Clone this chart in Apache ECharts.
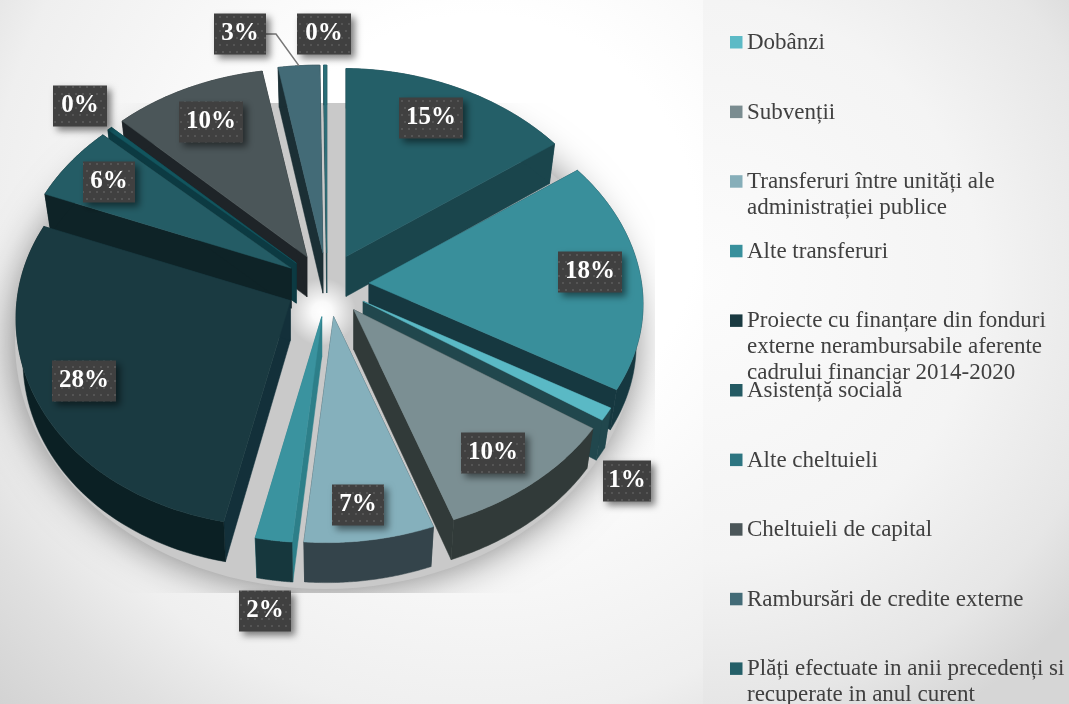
<!DOCTYPE html>
<html>
<head>
    <meta charset="utf-8">
    <title>Cheltuieli</title>
    <script src="https://cdn.jsdelivr.net/npm/echarts@6/dist/echarts.min.js"></script>
    <style>
        html, body { margin: 0; padding: 0; }
    </style>
</head>
<body>
    <div id="main" style="width:1069px;height:704px;"></div>
    <script type="text/javascript">
        // slices clockwise from 12 o'clock, in percent
        var sliceValues = [15, 18, 1, 10, 7, 2, 27.8, 6, 0.3, 10, 2.7, 0.2];

        var legendNames = [
            'Dobânzi',
            'Subvenții',
            'Transferuri între unități ale\nadministrației publice',
            'Alte transferuri',
            'Proiecte cu finanțare din fonduri\nexterne nerambursabile aferente\ncadrului financiar 2014-2020',
            'Asistență socială',
            'Alte cheltuieli',
            'Cheltuieli de capital',
            'Rambursări de credite externe',
            'Plăți efectuate in anii precedenți si\nrecuperate in anul curent'
        ];

        // colours
        var legendColors = ['#5cbac6', '#7a8c90', '#86aeb9', '#38909c', '#1a3a41', '#245a63', '#2d7581', '#4b5659', '#436b77', '#245f68'];
        var topColors = ['#245f68', '#398f9b', '#5ab9c5', '#7b8f93', '#85b0bc', '#3a939f', '#1a3a41', '#245c65', '#12555e', '#4b5659', '#436b77', '#2a6e78'];
        var sideColors = ['#1a454c', '#163840', '#21474d', '#313a39', '#34444b', '#2d7f89', '#13303a', '#0e2327', '#0c3a42', '#1e2428', '#1b2f35', '#1a454c'];
        var rimColors = ['#1a454c', '#163840', '#21474d', '#313a39', '#34444b', '#16373d', '#0b2024', '#0e2327', '#0c3a42', '#1e2428', '#1b2f35', '#1a454c'];

        // label box centres, same order as the slices
        var labelCenters = [[431, 118], [590, 272], [627, 481], [493, 453], [358, 505], [265, 611], [84, 381], [109, 182], [80, 106], [211, 122], [240, 34], [324, 34]];

        var cx = 327, cy = 285, depth = 40, explodeX = 42, explodeY = 32;
        var total = sliceValues.reduce(function (a, b) { return a + b; }, 0);

        // start / end angle of every slice
        var starts = [], ends = [], acc = 0;
        sliceValues.forEach(function (v) {
            starts.push(acc / total * 360);
            acc += v;
            ends.push(acc / total * 360);
        });

        function rad(a) { return a * Math.PI / 180; }

        // rim offset from the apex, back of the pie is smaller because of perspective
        function rim(a) {
            var s = Math.sin(rad(a)), c = Math.cos(rad(a));
            var front = c < 0 ? c * c : 0;
            return [(273 - 26 * c) * s - 11 * front, -(207 - 19 * c) * c + 3 * s];
        }

        function apexOf(i) {
            var b = rad((starts[i] + ends[i]) / 2);
            return [cx + explodeX * Math.sin(b), cy - explodeY * Math.cos(b)];
        }

        // bottom face is a little narrower than the top face
        function down(p, apex) {
            return [apex[0] + (p[0] - apex[0]) * 0.975, p[1] + depth];
        }

        function arcPoints(i) {
            var apex = apexOf(i), pts = [], step = Math.max((ends[i] - starts[i]) / 60, 0.05);
            for (var a = starts[i]; a < ends[i]; a += step) {
                var r = rim(a);
                pts.push([apex[0] + r[0], apex[1] + r[1]]);
            }
            var e = rim(ends[i]);
            pts.push([apex[0] + e[0], apex[1] + e[1]]);
            return pts;
        }

        function poly(points, fill) {
            return { type: 'polygon', shape: { points: points }, style: { fill: fill, stroke: fill, lineWidth: 0.5 } };
        }

        function renderSlice(params, api) {
            var i = api.value(1);
            if (!api.value(0)) { return; }
            var apex = apexOf(i), arc = arcPoints(i);
            var first = arc[0], last = arc[arc.length - 1];
            var low = arc.map(function (p) { return down(p, apex); });
            var rimWall = arc.concat(low.slice().reverse());
            var apexLow = down(apex, apex);
            return {
                type: 'group',
                children: [
                    poly([apex, first, low[0], apexLow], sideColors[i]),
                    poly([apex, last, low[low.length - 1], apexLow], sideColors[i]),
                    poly(rimWall, rimColors[i]),
                    poly([apex].concat(arc), topColors[i])
                ]
            };
        }

        // grey cast shadow and the light spot in the middle
        function renderBackdrop() {
            var pts = [];
            for (var a = 0; a < 360; a += 3) {
                pts.push([cx - 2 + 310 * Math.sin(rad(a)), 342 - 247 * Math.cos(rad(a))]);
            }
            return {
                type: 'group',
                children: [
                    {
                        type: 'polygon',
                        shape: { points: pts },
                        clipPath: { type: 'rect', shape: { x: 0, y: 103, width: 655, height: 490 } },
                        style: { fill: '#c9c9c9', shadowBlur: 40, shadowColor: 'rgba(0,0,0,0.5)' }
                    },
                    {
                        type: 'circle',
                        shape: { cx: 322, cy: 312, r: 34 },
                        style: {
                            fill: new echarts.graphic.RadialGradient(0.5, 0.5, 0.5, [
                                { offset: 0, color: 'rgba(255,255,255,1)' },
                                { offset: 0.3, color: 'rgba(255,255,255,0.9)' },
                                { offset: 1, color: 'rgba(255,255,255,0)' }
                            ])
                        }
                    }
                ]
            };
        }

        // dotted tile for the label boxes
        var tile = document.createElement('canvas');
        tile.width = 14;
        tile.height = 14;
        var tc = tile.getContext('2d');
        tc.fillStyle = '#404040';
        tc.fillRect(0, 0, 14, 14);
        tc.fillStyle = '#555555';
        tc.fillRect(2, 2, 2, 2);
        tc.fillRect(9, 2, 2, 2);
        tc.fillRect(5, 9, 2, 2);
        tc.fillRect(12, 9, 2, 2);

        function renderLabel(params, api) {
            var i = api.value(1), text = Math.round(api.value(0)) + '%';
            var c = labelCenters[i];
            var w = (text.length > 2 ? 64 : 52), h = 41;
            if (text === '1%') { w = 48; }
            if (text === '0%') { w = 54; }
            var kids = [];
            if (i === 10) {
                // leader line from the 3% box to its slice
                var apex = apexOf(i), r = rim((starts[i] + ends[i]) / 2);
                kids.push({
                    type: 'polyline',
                    shape: { points: [[c[0] + w / 2, c[1]], [c[0] + w / 2 + 10, c[1]], [apex[0] + r[0], apex[1] + r[1]]] },
                    style: { stroke: '#777', lineWidth: 1.5, fill: null }
                });
            }
            kids.push({
                type: 'rect',
                shape: { x: c[0] - w / 2, y: c[1] - h / 2, width: w, height: h },
                style: {
                    fill: { image: tile, repeat: 'repeat' },
                    shadowBlur: 7, shadowOffsetX: 4, shadowOffsetY: 4, shadowColor: 'rgba(0,0,0,0.5)'
                }
            });
            kids.push({
                type: 'text',
                style: {
                    x: c[0], y: c[1], text: text, align: 'center', verticalAlign: 'middle',
                    fill: '#fff', font: 'bold 25px "Liberation Serif"'
                }
            });
            return { type: 'group', children: kids };
        }

        // back slices first, front slices paint over them
        var drawOrder = sliceValues.map(function (v, i) { return i; }).sort(function (p, q) {
            return Math.cos(rad((starts[q] + ends[q]) / 2)) - Math.cos(rad((starts[p] + ends[p]) / 2));
        });

        // legend, evenly stepped like the original so long names run into the next one
        var legendItems = [{
            type: 'rect', z: 1,
            shape: { x: 703, y: 0, width: 366, height: 704 },
            style: {
                fill: new echarts.graphic.RadialGradient(700, 280, 500, [
                    { offset: 0, color: '#fcfcfc' },
                    { offset: 0.4, color: '#f6f6f6' },
                    { offset: 0.56, color: '#f4f4f4' },
                    { offset: 0.85, color: '#e6e6e6' },
                    { offset: 1, color: '#d6d6d6' }
                ], true)
            }
        }];
        legendNames.forEach(function (name, i) {
            var y = 42 + i * 69.6;
            legendItems.push({
                type: 'rect', z: 5,
                shape: { x: 730, y: y - 6, width: 12.5, height: 12.5 },
                style: { fill: legendColors[i] }
            });
            legendItems.push({
                type: 'text', z: 5,
                style: {
                    x: 747, y: y - 12, text: name, align: 'left', verticalAlign: 'top',
                    fill: '#404040', font: '23px "Liberation Serif"', lineHeight: 26
                }
            });
        });

        var myChart = echarts.init(document.getElementById('main'));

        var option = {
            animation: false,
            backgroundColor: new echarts.graphic.RadialGradient(0.449, 0.327, 1.02, [
                { offset: 0, color: '#ffffff' },
                { offset: 0.3, color: '#ffffff' },
                { offset: 0.68, color: '#efefef' },
                { offset: 0.8, color: '#e0e0e0' },
                { offset: 0.95, color: '#d2d2d2' },
                { offset: 1, color: '#d0d0d0' }
            ]),
            graphic: { elements: legendItems },
            series: [
                {
                    type: 'custom', coordinateSystem: 'none', z: 1, silent: true,
                    renderItem: renderBackdrop,
                    data: [[0]]
                },
                {
                    type: 'custom', coordinateSystem: 'none', z: 2, silent: true,
                    renderItem: renderSlice,
                    data: drawOrder.map(function (i) { return [sliceValues[i], i]; })
                },
                {
                    type: 'custom', coordinateSystem: 'none', z: 3, silent: true,
                    renderItem: renderLabel,
                    data: sliceValues.map(function (v, i) { return [v, i]; })
                }
            ]
        };
        myChart.setOption(option);
    </script>
</body>
</html>
